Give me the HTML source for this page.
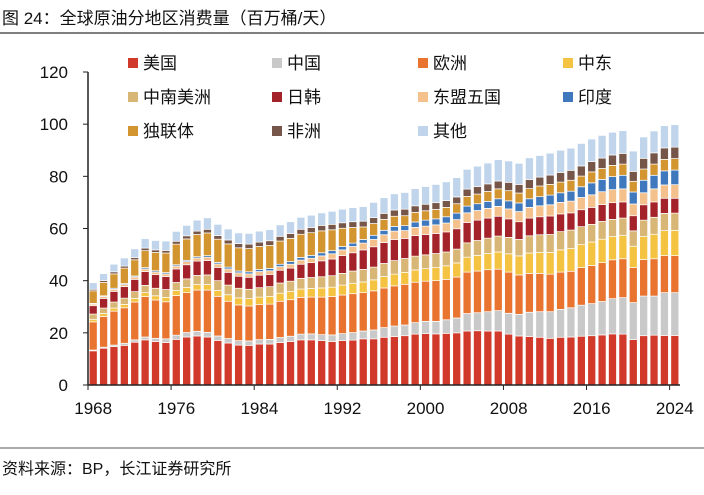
<!DOCTYPE html>
<html><head><meta charset="utf-8"><style>
body{margin:0;background:#fff;font-family:"Liberation Sans","Noto Sans CJK SC",sans-serif;}
svg text{font-family:"Liberation Sans","Noto Sans CJK SC",sans-serif;}
</style></head><body>
<svg id="c" width="704" height="490" xmlns="http://www.w3.org/2000/svg">
<text x="2" y="24" font-size="17" fill="#111">图 24：全球原油分地区消费量（百万桶/天）</text>
<line x1="0" y1="33" x2="704" y2="33" stroke="#333" stroke-width="1.2"/>
<line x1="0" y1="448" x2="704" y2="448" stroke="#555" stroke-width="1"/>
<text x="2" y="474" font-size="16" fill="#111">资料来源：BP，长江证券研究所</text>
<g id="bars"></g><g id="axes"></g><g id="legend"></g>
</svg>
<script>
const years=[];for(let y=1968;y<=2024;y++)years.push(y);
const names=["美国","中国","欧洲","中东","中南美洲","日韩","东盟五国","印度","独联体","非洲","其他"];
const colors=["#D13A2A","#C9C9C9","#E8742F","#F5C342","#D8B676","#A4232A","#F4C18C","#3F78BD","#D3952F","#765649","#C0D5EC"];
const us=[13.1,14.1,14.7,15.2,16.4,17.3,16.7,16.3,17.5,18.4,18.8,18.4,17.1,16.1,15.3,15.2,15.7,15.7,16.3,16.7,17.3,17.3,17.0,16.7,17.0,17.2,17.7,17.7,18.3,18.6,18.9,19.5,19.7,19.6,19.8,20.0,20.7,20.8,20.7,20.7,19.5,18.8,18.6,18.3,17.9,18.3,18.4,18.7,18.9,19.2,19.6,19.5,17.4,18.9,19.1,19.0,19.0];
const china=[0.3,0.4,0.6,0.8,0.9,1.1,1.2,1.4,1.6,1.7,1.8,1.8,1.7,1.7,1.7,1.7,1.7,1.8,1.9,2.0,2.2,2.3,2.3,2.5,2.7,2.9,3.0,3.4,3.7,4.0,4.1,4.4,4.7,4.8,5.2,5.7,6.7,6.9,7.4,7.8,8.0,8.3,9.3,9.8,10.2,10.7,11.2,11.9,12.3,12.8,13.5,14.0,14.2,15.2,15.0,16.4,16.4];
const europe=[10.8,11.8,13.0,13.6,14.5,15.5,14.7,14.2,15.2,15.3,15.8,16.2,15.2,14.3,13.7,13.4,13.4,13.5,13.9,14.0,14.1,14.1,14.4,14.7,14.8,14.9,14.7,15.0,15.2,15.4,15.6,15.5,15.4,15.6,15.5,15.7,15.9,16.0,16.1,15.9,15.8,15.1,14.9,14.7,14.4,14.3,14.0,14.4,14.6,14.9,14.9,14.9,13.4,14.0,14.3,14.2,14.2];
const mideast=[1.0,1.1,1.2,1.3,1.4,1.5,1.6,1.7,1.9,2.0,2.1,2.1,2.2,2.5,2.7,2.8,2.9,3.0,3.1,3.1,3.2,3.3,3.5,3.6,3.8,4.0,4.1,4.2,4.4,4.5,4.6,4.7,4.8,5.0,5.2,5.4,5.7,6.0,6.2,6.6,7.0,7.3,7.8,8.0,8.3,8.5,8.7,8.8,9.0,9.0,8.9,9.0,8.2,8.8,9.4,9.6,9.7];
const latam=[2.0,2.1,2.3,2.4,2.6,2.8,2.9,3.0,3.1,3.3,3.5,3.7,3.8,3.7,3.7,3.6,3.6,3.7,3.9,4.0,4.1,4.2,4.3,4.4,4.5,4.7,4.8,4.9,5.0,5.2,5.3,5.3,5.3,5.4,5.3,5.3,5.5,5.7,5.9,6.1,6.3,6.3,6.6,6.8,6.9,7.0,7.1,6.9,6.8,6.8,6.6,6.6,5.9,6.3,6.5,6.6,6.6];
const japanKorea=[3.2,3.7,4.1,4.4,4.7,5.3,5.2,5.0,5.2,5.4,5.5,5.5,5.1,4.9,4.6,4.6,4.8,4.7,4.9,5.0,5.4,5.7,6.1,6.4,6.8,7.0,7.5,7.8,8.0,8.1,7.7,7.9,7.8,7.7,7.7,7.8,7.8,7.8,7.7,7.6,7.1,6.8,6.8,6.9,7.1,6.8,6.6,6.5,6.5,6.5,6.4,6.2,5.8,5.9,5.9,5.8,5.7];
const asean=[0.6,0.7,0.8,0.8,0.9,1.0,1.0,1.0,1.1,1.2,1.2,1.3,1.3,1.3,1.3,1.3,1.4,1.4,1.4,1.5,1.6,1.7,1.9,2.0,2.2,2.4,2.6,2.8,3.0,3.2,3.0,3.1,3.2,3.3,3.4,3.5,3.7,3.7,3.7,3.8,3.8,3.9,4.1,4.2,4.3,4.4,4.5,4.7,4.8,4.9,5.0,5.0,4.5,4.6,5.0,5.1,5.2];
const india=[0.3,0.3,0.4,0.4,0.4,0.5,0.5,0.5,0.5,0.5,0.5,0.6,0.6,0.7,0.7,0.8,0.8,0.9,0.9,1.0,1.0,1.1,1.2,1.2,1.3,1.3,1.4,1.6,1.7,1.8,1.9,2.1,2.3,2.3,2.4,2.5,2.6,2.6,2.7,2.9,3.1,3.3,3.3,3.5,3.7,3.7,3.8,4.1,4.6,4.7,5.0,5.2,4.6,4.8,5.2,5.4,5.6];
const cis=[4.8,5.1,5.5,5.9,6.2,6.5,7.0,7.5,7.9,8.2,8.5,8.7,8.9,8.9,8.9,8.9,8.8,8.8,8.9,8.9,8.9,8.7,8.4,8.0,7.0,6.0,4.8,4.5,4.2,3.9,3.8,3.7,3.6,3.6,3.6,3.6,3.7,3.7,3.8,3.8,3.9,3.8,3.9,4.1,4.1,4.1,4.2,4.1,4.2,4.2,4.3,4.3,4.1,4.3,4.3,4.4,4.4];
const africa=[0.6,0.7,0.8,0.8,0.9,1.0,1.0,1.0,1.1,1.2,1.3,1.4,1.4,1.5,1.6,1.7,1.7,1.8,1.8,1.9,1.9,2.0,2.1,2.1,2.1,2.2,2.2,2.3,2.3,2.4,2.5,2.5,2.5,2.6,2.6,2.6,2.8,2.9,2.9,3.0,3.2,3.3,3.5,3.4,3.6,3.7,3.8,3.9,4.0,4.0,4.0,4.1,3.8,4.1,4.3,4.4,4.4];
const other=[2.5,2.7,2.9,3.1,3.3,3.6,3.6,3.6,3.8,4.0,4.2,4.4,4.3,4.2,4.1,4.1,4.2,4.3,4.4,4.5,4.6,4.7,4.8,5.0,5.2,5.4,5.6,5.8,6.0,6.2,6.4,6.6,6.8,7.0,7.2,7.4,7.6,7.8,8.0,8.2,8.2,8.1,8.3,8.3,8.4,8.5,8.5,8.6,8.6,8.7,8.7,8.7,7.8,8.2,8.4,8.5,8.6];
const yTicks=[0,20,40,60,80,100,120];
const xTickLabels=[1968,1976,1984,1992,2000,2008,2016,2024];
const series=[us,china,europe,mideast,latam,japanKorea,asean,india,cis,africa,other];

const NS="http://www.w3.org/2000/svg";
const X0=88,X1=680,Y0=385,Y1=72,YMAX=120;
const band=(X1-X0)/years.length;
const xc=i=>X0+band*(i+0.5);
const ys=v=>Y0-(v/YMAX)*(Y0-Y1);
function mk(t,a){const e=document.createElementNS(NS,t);for(const k in a)e.setAttribute(k,a[k]);return e;}
const gb=document.getElementById('bars'),ga=document.getElementById('axes'),gl=document.getElementById('legend');
years.forEach((yr,i)=>{let acc=0;
  series.forEach((s,j)=>{const v=s[i];const yt=ys(acc+v),yb=ys(acc);
    const r=mk('rect',{x:xc(i)-4,y:yt,width:8,height:Math.max(0,yb-yt),fill:colors[j],stroke:'#fff','stroke-width':0.7});
    
    
    gb.appendChild(r);acc+=v;});
});
const axl=mk('line',{x1:X0,y1:Y0,x2:X1,y2:Y0,stroke:'#222','stroke-width':1.5});


ga.appendChild(axl);
const ayl=mk('line',{x1:X0,y1:Y0,x2:X0,y2:Y1,stroke:'#222','stroke-width':1.5});


ga.appendChild(ayl);
yTicks.forEach(v=>{
  const tk=mk('line',{x1:X0-5,y1:ys(v),x2:X0,y2:ys(v),stroke:'#222','stroke-width':1});
  
  
  ga.appendChild(tk);
  const t=mk('text',{x:X0-20,y:ys(v)+6,'text-anchor':'end','font-size':17,fill:'#111'});
  t.textContent=v;
  
  
  ga.appendChild(t);
});
for(let k=0;k<=years.length;k+=8){const x=X0+band*k;
  const tk=mk('line',{x1:x,y1:Y0,x2:x,y2:Y0+5,stroke:'#222','stroke-width':1});
  
  
  ga.appendChild(tk);}
xTickLabels.forEach(yr=>{const i=years.indexOf(yr);
  const t=mk('text',{x:xc(i),y:Y0+29,'text-anchor':'middle','font-size':17,fill:'#111'});
  t.textContent=yr;
  
  
  ga.appendChild(t);});
const lx=[128,272,418,563],ly=[63,97,131];
names.forEach((n,j)=>{const cx=lx[j%4],cy=ly[Math.floor(j/4)];
  const g=mk('g',{});
  
  
  g.appendChild(mk('rect',{x:cx,y:cy-5,width:10,height:10,fill:colors[j]}));
  const t=mk('text',{x:cx+15,y:cy+6,'font-size':17,fill:'#111'});t.textContent=n;g.appendChild(t);
  gl.appendChild(g);});
</script>
</body></html>
